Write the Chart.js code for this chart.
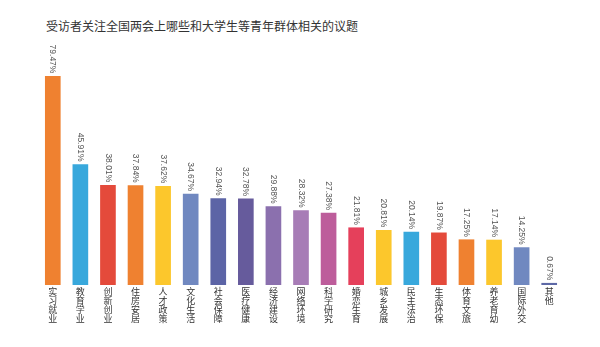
<!DOCTYPE html>
<html>
<head>
<meta charset="utf-8">
<script src="https://cdn.jsdelivr.net/npm/chart.js@4"></script>
<style>
    body { margin: 0; background: #fff; }
    #wrap { position: relative; width: 600px; height: 347px; }
    #title {
        position: absolute; left: 46px; top: 17px;
        font: 12px "Noto Sans CJK SC", sans-serif; color: #333;
        white-space: nowrap;
    }
    #chart { position: absolute; left: 0; top: 0; }
</style>
</head>
<body>
<div id="wrap">
    <div id="title">受访者关注全国两会上哪些和大学生等青年群体相关的议题</div>
    <canvas id="chart" width="600" height="347"></canvas>
</div>
<script>
let topics = [
    "实习就业", "教育学业", "创新创业", "住房安居", "人才政策", "文化生活",
    "社会保障", "医疗健康", "经济建设", "网络环境", "科学研究", "婚恋生育",
    "城乡发展", "民主法治", "生态环保", "体育文旅", "养老育幼", "国际外交", "其他"
]
let percents = [
    79.47, 45.91, 38.01, 37.84, 37.62, 34.67,
    32.94, 32.78, 29.88, 28.32, 27.38, 21.81,
    20.81, 20.14, 19.87, 17.25, 17.14, 14.25, 0.67
]
let barColors = [
    "#ef8130", "#38a8dc", "#e44a3b", "#ef8130", "#fcc72c", "#7088c0",
    "#5c64a6", "#665b9c", "#8b70ae", "#a77cb6", "#bd5d9b", "#e5405b",
    "#fcc72c", "#38a8dc", "#e44a3b", "#ef8130", "#fcc72c", "#7088c0", "#5d68a6"
]

// percent text above each bar, turned to read top-down
const valueLabels = {
    id: 'valueLabels',
    afterDatasetsDraw(chart) {
        const ctx = chart.ctx
        const meta = chart.getDatasetMeta(0)
        ctx.save()
        ctx.font = '8.5px "Liberation Sans", sans-serif'
        ctx.fillStyle = '#555'
        ctx.textAlign = 'right'
        ctx.textBaseline = 'middle'
        meta.data.forEach((bar, i) => {
            ctx.save()
            ctx.translate(bar.x, bar.y - 3)
            ctx.rotate(Math.PI / 2)
            ctx.fillText(percents[i].toFixed(2) + '%', 0, 0)
            ctx.restore()
        })
        ctx.restore()
    }
}

window.onload = () => {
    const ctx = document.getElementById('chart')
    new Chart(ctx, {
        type: 'bar',
        data: {
            // one character per line so the names stand vertically
            labels: topics.map(t => t.split('')),
            datasets: [{
                data: percents,
                backgroundColor: barColors,
                barThickness: 15
            }]
        },
        options: {
            responsive: false,
            animation: false,
            layout: {
                padding: { left: 39, right: 37, top: 75, bottom: 22 }
            },
            plugins: {
                legend: { display: false },
                tooltip: { enabled: false }
            },
            scales: {
                x: {
                    grid: { display: false, drawTicks: false },
                    border: { display: false },
                    ticks: {
                        autoSkip: false,
                        minRotation: 0,
                        maxRotation: 0,
                        padding: 2,
                        color: '#333',
                        font: { family: '"Noto Sans CJK SC", sans-serif', size: 9, lineHeight: 1 }
                    }
                },
                y: {
                    display: false,
                    min: 0,
                    max: 80
                }
            }
        },
        plugins: [valueLabels]
    })
}
</script>
</body>
</html>
